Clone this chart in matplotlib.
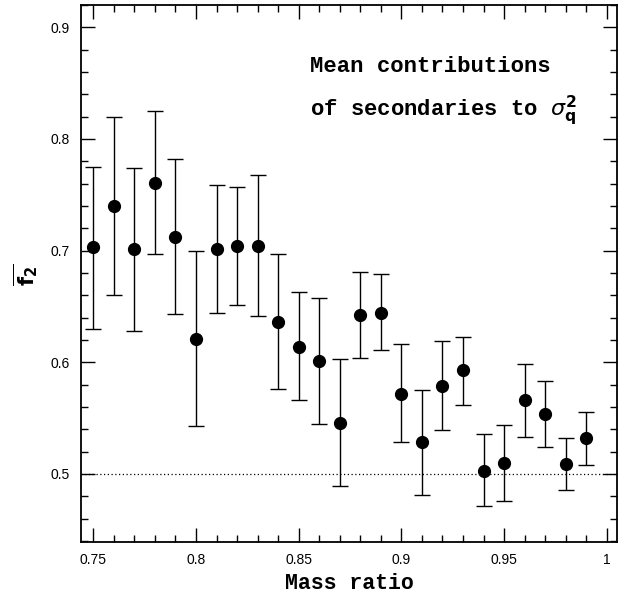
import matplotlib
matplotlib.use("Agg")
import matplotlib.pyplot as plt
from matplotlib.ticker import MultipleLocator
import numpy as np

# mass ratio bins and mean f2 with lower / upper error bar ends
mass_ratio = [0.75, 0.76, 0.77, 0.78, 0.79, 0.80, 0.81, 0.82, 0.83, 0.84,
              0.85, 0.86, 0.87, 0.88, 0.89, 0.90, 0.91, 0.92, 0.93, 0.94,
              0.95, 0.96, 0.97, 0.98, 0.99]
f2_mean = [0.703, 0.740, 0.701, 0.761, 0.712, 0.621, 0.701, 0.704, 0.704, 0.636,
           0.614, 0.601, 0.546, 0.642, 0.644, 0.572, 0.529, 0.579, 0.593, 0.503,
           0.510, 0.566, 0.554, 0.509, 0.532]
f2_low = [0.630, 0.660, 0.628, 0.697, 0.643, 0.543, 0.644, 0.651, 0.641, 0.576,
          0.566, 0.545, 0.489, 0.604, 0.611, 0.529, 0.481, 0.539, 0.562, 0.471,
          0.476, 0.533, 0.524, 0.486, 0.508]
f2_high = [0.775, 0.820, 0.774, 0.825, 0.782, 0.700, 0.759, 0.757, 0.768, 0.697,
           0.663, 0.658, 0.603, 0.681, 0.679, 0.616, 0.575, 0.619, 0.623, 0.536,
           0.544, 0.598, 0.583, 0.532, 0.555]

x = np.array(mass_ratio)
y = np.array(f2_mean)
yerr = [y - np.array(f2_low), np.array(f2_high) - y]

fig = plt.figure(figsize=(6.34, 5.96), dpi=100)
ax = fig.add_axes([81 / 634, 1 - 542 / 596, (617 - 81) / 634, (542 - 5) / 596])

ax.axhline(0.5, color="black", linestyle=(0, (1, 2)), linewidth=0.9)
ax.errorbar(x, y, yerr=yerr, fmt="o", color="black", markersize=8.5,
            elinewidth=1.0, capsize=6, capthick=1.0)

ax.set_xlim(0.744, 1.005)
ax.set_ylim(0.439, 0.92)
ax.xaxis.set_major_locator(MultipleLocator(0.05))
ax.xaxis.set_minor_locator(MultipleLocator(0.01))
ax.yaxis.set_major_locator(MultipleLocator(0.1))
ax.yaxis.set_minor_locator(MultipleLocator(0.02))
ax.set_xticks([0.75, 0.8, 0.85, 0.9, 0.95, 1.0])
ax.set_xticklabels(["0.75", "0.8", "0.85", "0.9", "0.95", "1"])
ax.set_yticks([0.5, 0.6, 0.7, 0.8, 0.9])
ax.set_yticklabels(["0.5", "0.6", "0.7", "0.8", "0.9"])
ax.tick_params(which="both", direction="in", top=True, right=True,
               labelsize=10, pad=8)
ax.tick_params(which="major", length=10, width=1.0)
ax.tick_params(which="minor", length=5, width=1.0)
for lab in ax.get_xticklabels() + ax.get_yticklabels():
    lab.set_family("Liberation Sans")
for sp in ax.spines.values():
    sp.set_linewidth(1.3)

ax.set_xlabel("Mass ratio", family="Liberation Mono", fontweight="bold",
              fontsize=15.5, labelpad=4)
# y label placed by hand so the overline is not clipped
fig.text(26 / 634, 1 - 275 / 596, r"$\overline{\mathbf{f}_{\mathbf{2}}}$",
         fontsize=15, rotation=90, ha="center", va="center")

ax.text(310 / 634, 1 - 67 / 596, "Mean contributions", transform=fig.transFigure,
        family="Liberation Mono", fontweight="bold", fontsize=16,
        ha="left", va="center")
ax.text(310 / 634, 1 - 111 / 596, r"of secondaries to $\sigma^{\mathbf{2}}_{\mathbf{q}}$",
        transform=fig.transFigure, family="Liberation Mono", fontweight="bold",
        fontsize=16, ha="left", va="center")

fig.savefig("out.png", dpi=100)
